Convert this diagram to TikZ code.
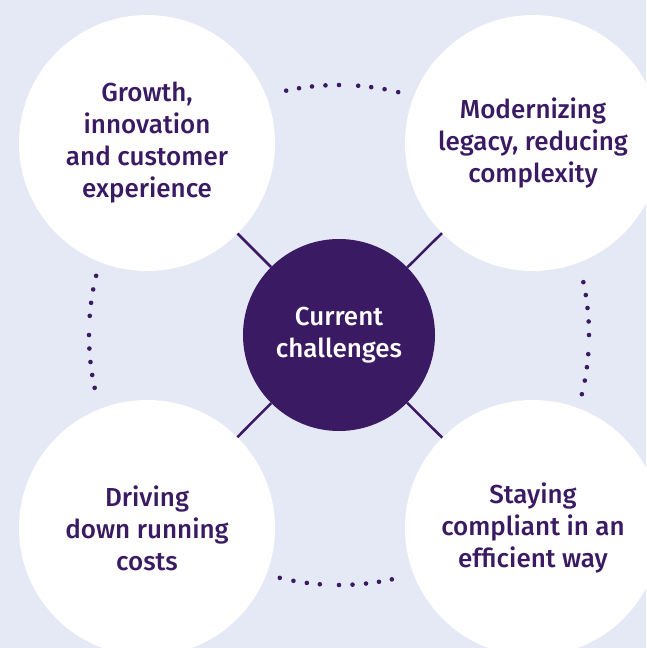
\documentclass[tikz,border=0pt]{standalone}
\usepackage{fontspec}
\setmainfont{Fira Sans}[BoldFont={Fira Sans Medium}]

\newlength{\du}
\setlength{\du}{1pt}

\definecolor{bgcolor}{rgb}{0.898039, 0.909804, 0.960784}
\definecolor{plum}{rgb}{0.227451, 0.101961, 0.388235}

\tikzset{
  topic/.style={circle, fill=white, inner sep=0pt, outer sep=0pt,
    minimum size=256\du, align=center, text=plum,
    font=\bfseries\fontsize{26}{32}\selectfont},
  hub/.style={circle, fill=plum, inner sep=0pt, outer sep=0pt,
    minimum size=192\du, align=center, text=white,
    font=\bfseries\fontsize{26}{32}\selectfont},
  spoke/.style={draw=plum, line width=2.5\du},
  trackdot/.style={fill=plum},
}

\begin{document}
\begin{tikzpicture}
\pgftransformxscale{1.000000}
\pgftransformyscale{-1.000000}
\useasboundingbox (0\du,0\du) rectangle (646\du,648\du);
\fill[bgcolor] (0\du,0\du) rectangle (646\du,648\du);
% hub and topics
\node[hub] (challenges) at (339\du,335\du) {Current\\challenges};
\node[topic] (growth) at (147\du,143\du) {Growth,\\innovation\\and customer\\experience};
\node[topic] (legacy) at (533\du,143\du) {Modernizing\\legacy, reducing\\complexity};
\node[topic] (costs) at (147\du,528\du) {Driving\\down running\\costs};
\node[topic] (compliance) at (533\du,528\du) {Staying\\compliant in an\\efficient way};
% spokes
\foreach \t in {growth,legacy,costs,compliance}
  \draw[spoke] (challenges) -- (\t);
% dotted track between topics
\foreach \b in {0,90,180,270}
  \foreach \o in {12.2,9.2,6.2,3.1,0,-4.4,-7.4,-10.5,-13.7}
    \fill[trackdot] (challenges.center) ++(\b-\o:250\du) circle (2.3\du);
\end{tikzpicture}
\end{document}
